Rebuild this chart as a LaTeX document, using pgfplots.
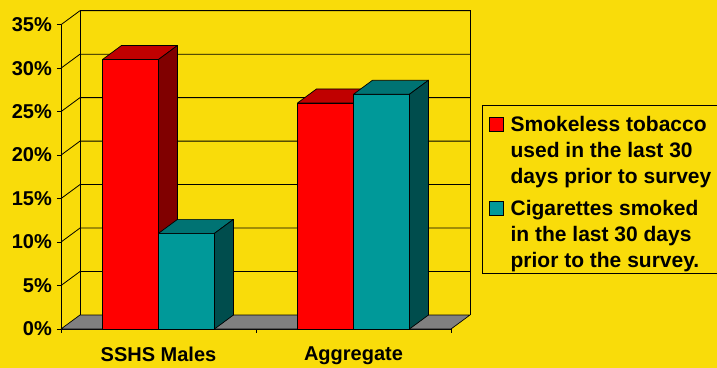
\documentclass[border=0pt]{standalone}
\usepackage{pgfplots}
\pgfplotsset{compat=1.18}
\usepackage{fontspec}
\setmainfont{Liberation Sans}
\definecolor{bg}{RGB}{249,220,10}
\definecolor{red1}{RGB}{255,0,0}
\definecolor{redtop}{RGB}{192,0,0}
\definecolor{redside}{RGB}{128,0,0}
\definecolor{teal1}{RGB}{0,153,153}
\definecolor{tealtop}{RGB}{0,115,115}
\definecolor{tealside}{RGB}{0,77,77}
\definecolor{floorgray}{RGB}{128,128,128}
\pgfplotsset{
  sqlegend/.style={legend image code/.code={\draw[##1,draw=black,line width=0.7bp] (0bp,0.7bp) rectangle (13.5bp,14.5bp);}},
  face/.style={forget plot, draw=black, line width=0.7bp, line join=round, mark=none},
  gridl/.style={forget plot, draw=black, line width=0.8bp, mark=none},
}
\newcommand\Ln{\rule[-4.4bp]{0pt}{25.8bp}}
\newcommand\LnA{\rule[-4.4bp]{0pt}{29.2bp}}
\newcommand\LnB{\rule[-4.4bp]{0pt}{32.3bp}}
\begin{document}
\begin{tikzpicture}
\useasboundingbox (0,0) rectangle (717bp,368bp);
\fill[bg] (0,0) rectangle (717bp,368bp);
\clip (0,0) rectangle (717bp,368bp);
\begin{axis}[
  at={(61bp,39bp)}, anchor=south west,
  scale only axis, width=390bp, height=304.3bp,
  xmin=0, xmax=2, ymin=0, ymax=35,
  clip=false,
  axis lines*=left,
  axis line style={black, line width=0.9bp},
  no markers,
  ytick={0,5,10,15,20,25,30,35},
  yticklabels={0\%,5\%,10\%,15\%,20\%,25\%,30\%,35\%},
  xtick={0,1,2}, xticklabels={},
  extra x ticks={0.5,1.5},
  extra x tick labels={SSHS Males,Aggregate},
  extra x tick style={major tick length=0pt},
  tick align=outside, major tick length=4bp,
  tick style={black, line width=0.8bp},
  tick label style={font=\fontsize{20bp}{24bp}\selectfont\bfseries},
  yticklabel style={inner sep=0pt, xshift=-5bp},
  xticklabel style={inner sep=0pt, yshift=-18bp},
  legend style={at={(1.0795,0.736)}, anchor=north west, draw=black, line width=0.8bp,
    fill=bg, inner xsep=7bp, inner ysep=1.5bp,
    font=\fontsize{21bp}{26bp}\selectfont\bfseries,
    row sep=0pt, cells={anchor=base west},
    nodes={inner sep=0pt, text depth=4.4bp},
    /tikz/every odd column/.append style={column sep=7bp}},
]
% back wall outline
\addplot[gridl] coordinates {(0.0974,1.61) (0.0974,36.61) (2.0974,36.61) (2.0974,1.61)};
% gridlines (side diagonal + back wall)
\addplot[gridl] coordinates {(0,5) (0.0974,6.61) (2.0974,6.61)};
\addplot[gridl] coordinates {(0,10) (0.0974,11.61) (2.0974,11.61)};
\addplot[gridl] coordinates {(0,15) (0.0974,16.61) (2.0974,16.61)};
\addplot[gridl] coordinates {(0,20) (0.0974,21.61) (2.0974,21.61)};
\addplot[gridl] coordinates {(0,25) (0.0974,26.61) (2.0974,26.61)};
\addplot[gridl] coordinates {(0,30) (0.0974,31.61) (2.0974,31.61)};
\addplot[gridl] coordinates {(0,35) (0.0974,36.61) (2.0974,36.61)};
% floor
\addplot[face, fill=floorgray] coordinates {(0,0) (2,0) (2.0974,1.61) (0.0974,1.61)} -- cycle;
% smokeless tobacco
\addplot[ybar, forget plot, bar width=0.287, bar shift=-0.1435, fill=red1, draw=black, line width=0.7bp]
  coordinates {(0.5,31) (1.5,26)};
\addplot[face, fill=redtop] coordinates {(0.2130,31) (0.5000,31) (0.5974,32.61) (0.3104,32.61)} -- cycle;
\addplot[face, fill=redside] coordinates {(0.5000,0) (0.5000,31) (0.5974,32.61) (0.5974,1.61)} -- cycle;
\addplot[face, fill=redtop] coordinates {(1.2130,26) (1.5000,26) (1.5974,27.61) (1.3104,27.61)} -- cycle;
\addplot[face, fill=redside] coordinates {(1.5000,0) (1.5000,26) (1.5974,27.61) (1.5974,1.61)} -- cycle;
% cigarettes
\addplot[ybar, forget plot, bar width=0.287, bar shift=0.1435, fill=teal1, draw=black, line width=0.7bp]
  coordinates {(0.5,11) (1.5,27)};
\addplot[face, fill=tealtop] coordinates {(0.5000,11) (0.7870,11) (0.8844,12.61) (0.5974,12.61)} -- cycle;
\addplot[face, fill=tealside] coordinates {(0.7870,0) (0.7870,11) (0.8844,12.61) (0.8844,1.61)} -- cycle;
\addplot[face, fill=tealtop] coordinates {(1.5000,27) (1.7870,27) (1.8844,28.61) (1.5974,28.61)} -- cycle;
\addplot[face, fill=tealside] coordinates {(1.7870,0) (1.7870,27) (1.8844,28.61) (1.8844,1.61)} -- cycle;
% legend
\addlegendimage{sqlegend, fill=red1}
\addlegendentry{\LnA Smokeless tobacco}
\addlegendimage{empty legend}
\addlegendentry{\Ln used in the last 30}
\addlegendimage{empty legend}
\addlegendentry{\Ln days prior to survey}
\addlegendimage{sqlegend, fill=teal1}
\addlegendentry{\LnB Cigarettes smoked}
\addlegendimage{empty legend}
\addlegendentry{\Ln in the last 30 days}
\addlegendimage{empty legend}
\addlegendentry{\Ln prior to the survey.}
\end{axis}
\end{tikzpicture}
\end{document}
